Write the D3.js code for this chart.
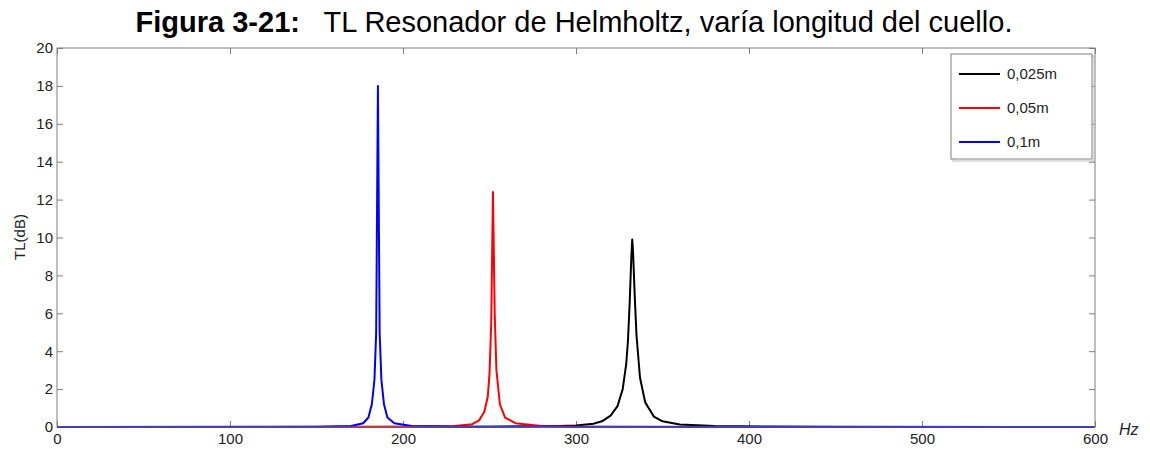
<!DOCTYPE html>
<html>
<head>
<meta charset="utf-8">
<script src="https://cdn.jsdelivr.net/npm/d3@7"></script>
<style>
  body { margin: 0; background: #fff; }
  text { font-family: Arial, "Liberation Sans", sans-serif; }
</style>
</head>
<body>
<div id="chart"></div>
<script>
// Series: [Hz, TL dB]
var seriesNames = ["0,025m", "0,05m", "0,1m"];
var seriesColors = ["#000000", "#ff0000", "#0000ff"];

var black025 = [[0,0],[250,0.01],[290,0.05],[300,0.08],[310,0.17],[315,0.3],[320,0.6],[324,1.1],
  [327,2.0],[329,3.3],[330,4.5],[331,6.5],[332,9.0],[332.5,9.9],[333,9.2],[334,6.8],[335,4.8],
  [337,2.6],[340,1.3],[345,0.55],[350,0.3],[360,0.13],[380,0.05],[415,0.02],[450,0.01],[600,0]];
var red05 = [[0,0],[200,0.01],[230,0.05],[240,0.15],[244,0.35],[247,0.8],[249,1.6],[250,2.8],
  [251,5.5],[252,12.4],[253,6],[254,3],[256,1.2],[259,0.5],[265,0.2],[280,0.05],[300,0.01],[600,0]];
var blue1 = [[0,0],[150,0.01],[170,0.05],[177,0.2],[180,0.5],[182,1.2],[183.5,2.5],[184.5,5],
  [185.5,18],[186.5,5],[187.5,2.5],[189,1.2],[191,0.5],[195,0.2],[205,0.05],[230,0.01],[600,0]];

var xTicks = [0, 100, 200, 300, 400, 500, 600];
var yTicks = [0, 2, 4, 6, 8, 10, 12, 14, 16, 18, 20];

var W = 1150, H = 449;
var margin = {top: 48, right: 55, bottom: 22, left: 57};
var w = W - margin.left - margin.right,
    h = H - margin.top - margin.bottom;

var svg = d3.select("#chart").append("svg")
  .attr("width", W)
  .attr("height", H);

// Title
var title = svg.append("text")
  .attr("x", 574)
  .attr("y", 32)
  .attr("text-anchor", "middle")
  .style("font-size", "29px")
  .style("fill", "#000");
title.append("tspan").style("font-weight", "bold").text("Figura 3-21:");
title.append("tspan").text("\u00a0\u00a0 TL Resonador de Helmholtz, varía longitud del cuello.");

var g = svg.append("g")
  .attr("transform", `translate(${margin.left},${margin.top})`);

var x = d3.scaleLinear().domain([0, 600]).range([0, w]);
var y = d3.scaleLinear().domain([0, 20]).range([h, 0]);

var axisColor = "#7f7f7f";

// Axes with inward ticks, mirrored on top and right
function styleAxis(sel) {
  sel.select(".domain").remove();
  sel.selectAll("line").attr("stroke", axisColor);
  sel.selectAll("text").style("font-size", "15px").style("fill", "#222");
}

g.append("g")
  .attr("transform", `translate(0,${h})`)
  .call(d3.axisBottom(x).tickValues(xTicks).tickSizeInner(-6).tickSizeOuter(0).tickPadding(6))
  .call(styleAxis);

g.append("g")
  .call(d3.axisTop(x).tickValues(xTicks).tickSizeInner(-6).tickSizeOuter(0).tickFormat(""))
  .call(styleAxis);

g.append("g")
  .call(d3.axisLeft(y).tickValues(yTicks).tickSizeInner(-6).tickSizeOuter(0).tickPadding(4))
  .call(styleAxis);

g.append("g")
  .attr("transform", `translate(${w},0)`)
  .call(d3.axisRight(y).tickValues(yTicks).tickSizeInner(-6).tickSizeOuter(0).tickFormat(""))
  .call(styleAxis);

// Curves
var line = d3.line()
  .x(d => x(d[0]))
  .y(d => y(d[1]));

[black025, red05, blue1].forEach(function(data, i) {
  g.append("path")
    .datum(data)
    .attr("fill", "none")
    .attr("stroke", seriesColors[i])
    .attr("stroke-width", 2)
    .attr("stroke-linejoin", "round")
    .attr("d", line);
});

// Plot frame
g.append("rect")
  .attr("width", w)
  .attr("height", h)
  .attr("fill", "none")
  .attr("stroke", axisColor)
  .attr("stroke-width", 1);

// Axis labels
svg.append("text")
  .attr("transform", "translate(25,237) rotate(-90)")
  .attr("text-anchor", "middle")
  .style("font-size", "15px")
  .style("fill", "#222")
  .text("TL(dB)");

svg.append("text")
  .attr("x", 1119)
  .attr("y", 435)
  .style("font-size", "16px")
  .style("font-style", "italic")
  .style("fill", "#222")
  .text("Hz");

// Legend
var lg = svg.append("g").attr("transform", "translate(951,54)");
lg.append("rect")
  .attr("x", 2).attr("y", 2)
  .attr("width", 141).attr("height", 105)
  .attr("fill", "none").attr("stroke", "#bbb");
lg.append("rect")
  .attr("width", 141).attr("height", 105)
  .attr("fill", "#fff").attr("stroke", "#7f7f7f");

seriesNames.forEach(function(name, i) {
  var yy = 20 + i * 34;
  lg.append("line")
    .attr("x1", 8).attr("x2", 49)
    .attr("y1", yy).attr("y2", yy)
    .attr("stroke", seriesColors[i])
    .attr("stroke-width", 2);
  lg.append("text")
    .attr("x", 56)
    .attr("y", yy + 5)
    .style("font-size", "15px")
    .style("fill", "#222")
    .text(name);
});
</script>
</body>
</html>
